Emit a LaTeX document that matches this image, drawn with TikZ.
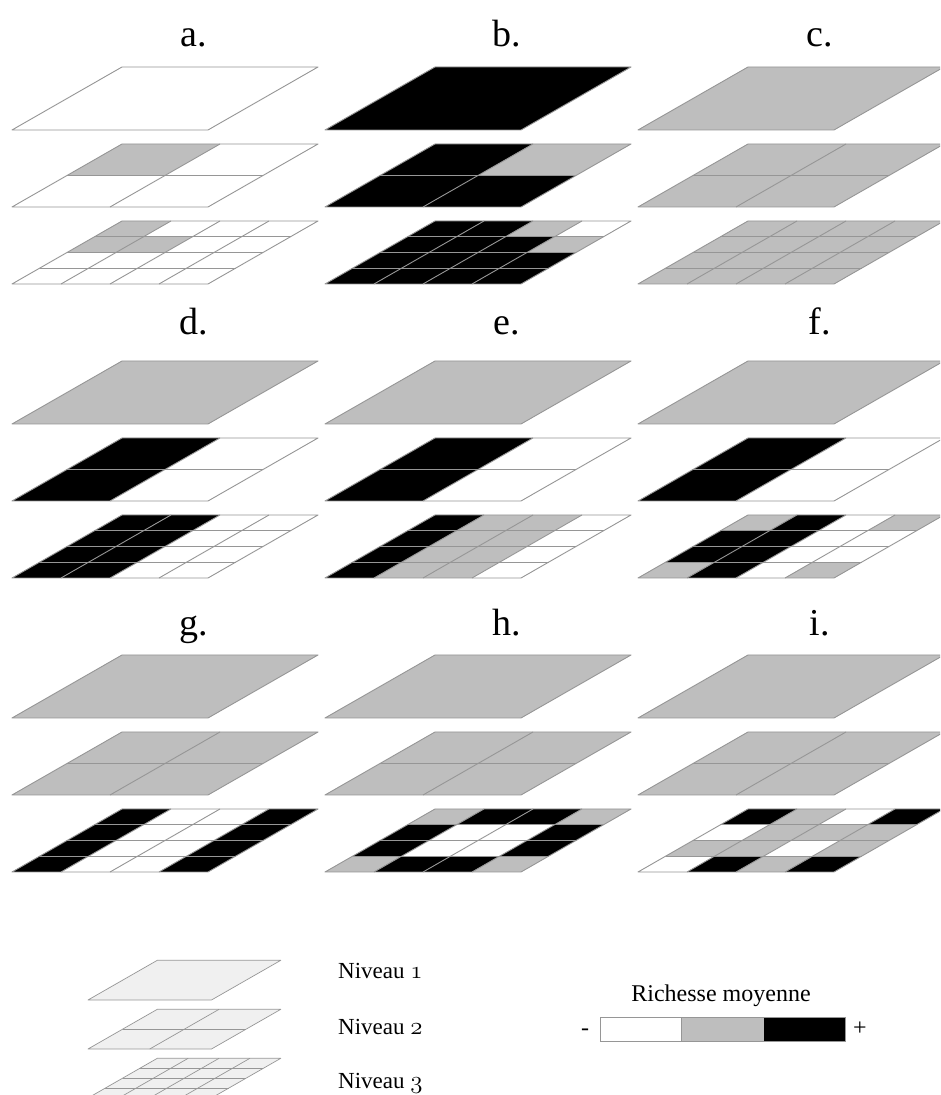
\documentclass[tikz,border=0pt]{standalone}
\usepackage{tikz}
\usepackage{fontspec}
\setmainfont{Liberation Serif}
\newcommand\osn[1]{{\fontencoding{OML}\fontfamily{cmm}\fontseries{m}\fontshape{it}\selectfont #1}}
\definecolor{cg}{RGB}{190,190,190}
\definecolor{lg}{RGB}{150,150,150}
\definecolor{pale}{RGB}{240,240,240}
\colorlet{W}{white}
\colorlet{G}{cg}
\colorlet{B}{black}
\tikzset{
  cellline/.style={draw=lg, line width=0.9pt, line join=round},
  legline/.style={draw=lg, line width=0.7pt, line join=round},
  paneltitle/.style={anchor=base, font=\fontsize{38}{40}\selectfont, inner sep=0pt},
  legtext/.style={anchor=west, font=\fontsize{23}{25}\selectfont, inner sep=0pt},
  bartext/.style={font=\fontsize{24}{26}\selectfont, inner sep=0pt},
}
% #1 X0, #2 Ybot (pixel, y down), #3 n, #4 colour list, #5 scale, #6 line style
\newcommand\layer[6]{%
\begin{scope}[shift={(#1,1095-(#2))}, x={(#5*196pt,0pt)}, y={(#5*110pt,#5*63pt)}]
  \foreach \cc [count=\i from 0] in {#4} {
    \pgfmathtruncatemacro\rr{\i/#3}
    \pgfmathtruncatemacro\kk{mod(\i,#3)}
    \pgfmathsetmacro\ua{\kk/#3}
    \pgfmathsetmacro\ub{(\kk+1)/#3}
    \pgfmathsetmacro\va{1-(\rr+1)/#3}
    \pgfmathsetmacro\vb{1-\rr/#3}
    \fill[\cc] (\ua,\va) -- (\ub,\va) -- (\ub,\vb) -- (\ua,\vb) -- cycle;
  }
  \ifnum#3>1
    \pgfmathtruncatemacro\nm{#3-1}
    \foreach \k in {1,...,\nm} {
      \draw[#6] (\k/#3,0) -- (\k/#3,1);
      \draw[#6] (0,\k/#3) -- (1,\k/#3);
    }
  \fi
  \draw[#6] (0,0) -- (1,0) -- (1,1) -- (0,1) -- cycle;
\end{scope}}
% #1 X0, #2 row offset, #3 name, #4 title, #5 L1, #6 L2 list, #7 L3 list, #8 title baseline
\newcommand\panel[8]{%
  \node[paneltitle] (#3) at (#1+182, 1095-#8) {#4};
  \layer{#1}{130+#2}{1}{#5}{1}{cellline}
  \layer{#1}{207+#2}{2}{#6}{1}{cellline}
  \layer{#1}{284+#2}{4}{#7}{1}{cellline}
}
\begin{document}
\begin{tikzpicture}[x=1pt,y=1pt]
\useasboundingbox (0,0) rectangle (940,1095);
\clip (0,0) rectangle (940,1095);
\fill[white] (0,0) rectangle (940,1095);

% row 1
\panel{12}{0}{ta}{a.}{W}{G,W,W,W}{G,W,W,W, G,G,W,W, W,W,W,W, W,W,W,W}{47}
\panel{325}{0}{tb}{b.}{B}{B,G,B,B}{B,B,G,W, B,B,B,G, B,B,B,B, B,B,B,B}{47}
\panel{638}{0}{tc}{c.}{G}{G,G,G,G}{G,G,G,G, G,G,G,G, G,G,G,G, G,G,G,G}{47}
% row 2
\panel{12}{294}{td}{d.}{G}{B,W,B,W}{B,B,W,W, B,B,W,W, B,B,W,W, B,B,W,W}{335}
\panel{325}{294}{te}{e.}{G}{B,W,B,W}{B,G,G,W, B,G,G,W, B,G,G,W, B,G,G,W}{335}
\panel{638}{294}{tf}{f.}{G}{B,W,B,W}{G,B,W,G, B,B,W,W, B,B,W,W, G,B,W,G}{335}
% row 3
\panel{12}{588}{tg}{g.}{G}{G,G,G,G}{B,W,W,B, B,W,W,B, B,W,W,B, B,W,W,B}{636}
\panel{325}{588}{th}{h.}{G}{G,G,G,G}{G,B,B,G, B,W,W,B, B,W,W,B, G,B,B,G}{636}
\panel{638}{588}{ti}{i.}{G}{G,G,G,G}{B,G,W,B, W,G,G,G, G,G,W,G, W,B,G,B}{636}

% legend levels
\layer{88}{1000}{1}{pale}{0.63}{legline}
\layer{88}{1049}{2}{pale,pale,pale,pale}{0.63}{legline}
\layer{88}{1098}{4}{pale,pale,pale,pale,pale,pale,pale,pale,pale,pale,pale,pale,pale,pale,pale,pale}{0.63}{legline}
\node[legtext] (n1) at (338,1095-971) {Niveau \osn{1}};
\node[legtext] (n2) at (338,1095-1027) {Niveau \osn{2}};
\node[legtext] (n3) at (338,1095-1083) {Niveau \osn{3}};

% colour bar
\node[bartext] (rm) at (721,1095-996) {Richesse moyenne};
\fill[white] (600,1095-1041) rectangle (681,1095-1017);
\fill[cg] (681,1095-1041) rectangle (764,1095-1017);
\fill[black] (764,1095-1041) rectangle (845,1095-1017);
\draw[lg, line width=0.9pt] (600,1095-1041) rectangle (845,1095-1017);
\draw[lg, line width=0.9pt] (681,1095-1041) -- (681,1095-1017);
\node[bartext, anchor=base] (minus) at (585,1095-1036) {-};
\node[bartext, anchor=base] (plus) at (860,1095-1036) {+};
\end{tikzpicture}
\end{document}
